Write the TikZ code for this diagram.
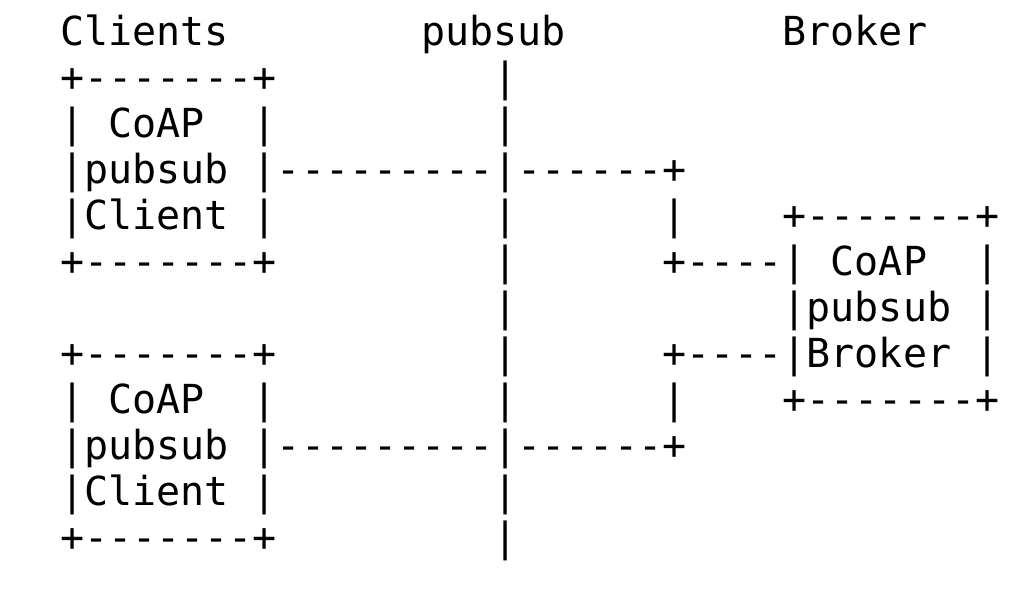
\documentclass[tikz,border=0pt]{standalone}
\usepackage{fontspec}
\setmonofont{DejaVu Sans Mono}
\usepackage{tikz}
\usetikzlibrary{positioning}

% blank columns of the monospaced grid
\newcommand{\gap}[1]{\hspace*{#1\dimexpr0.60205em\relax}}

\begin{document}
\begin{tikzpicture}
  [x=1pt,y=1pt,
   every node/.style={anchor=base west,
                      inner sep=0pt,
                      font=\ttfamily\fontsize{40}{46}\selectfont},
   row/.style={below=46pt of #1.base west,anchor=base west}]
  \useasboundingbox (0,0) rectangle (1032,604);
  \node (r0) at (60,558.5) {Clients\gap{8}pubsub\gap{9}Broker};
  \node[row=r0] (r1) {+-------+\gap{9}|};
  \node[row=r1] (r2) {| CoAP\gap{2}|\gap{9}|};
  \node[row=r2] (r3) {|pubsub |---------|------+};
  \node[row=r3] (r4) {|Client |\gap{9}|\gap{6}|\gap{4}+-------+};
  \node[row=r4] (r5) {+-------+\gap{9}|\gap{6}+----| CoAP\gap{2}|};
  \node[row=r5] (r6) {\gap{18}|\gap{11}|pubsub |};
  \node[row=r6] (r7) {+-------+\gap{9}|\gap{6}+----|Broker |};
  \node[row=r7] (r8) {| CoAP\gap{2}|\gap{9}|\gap{6}|\gap{4}+-------+};
  \node[row=r8] (r9) {|pubsub |---------|------+};
  \node[row=r9] (r10) {|Client |\gap{9}|};
  \node[row=r10] (r11) {+-------+\gap{9}|};
\end{tikzpicture}
\end{document}
